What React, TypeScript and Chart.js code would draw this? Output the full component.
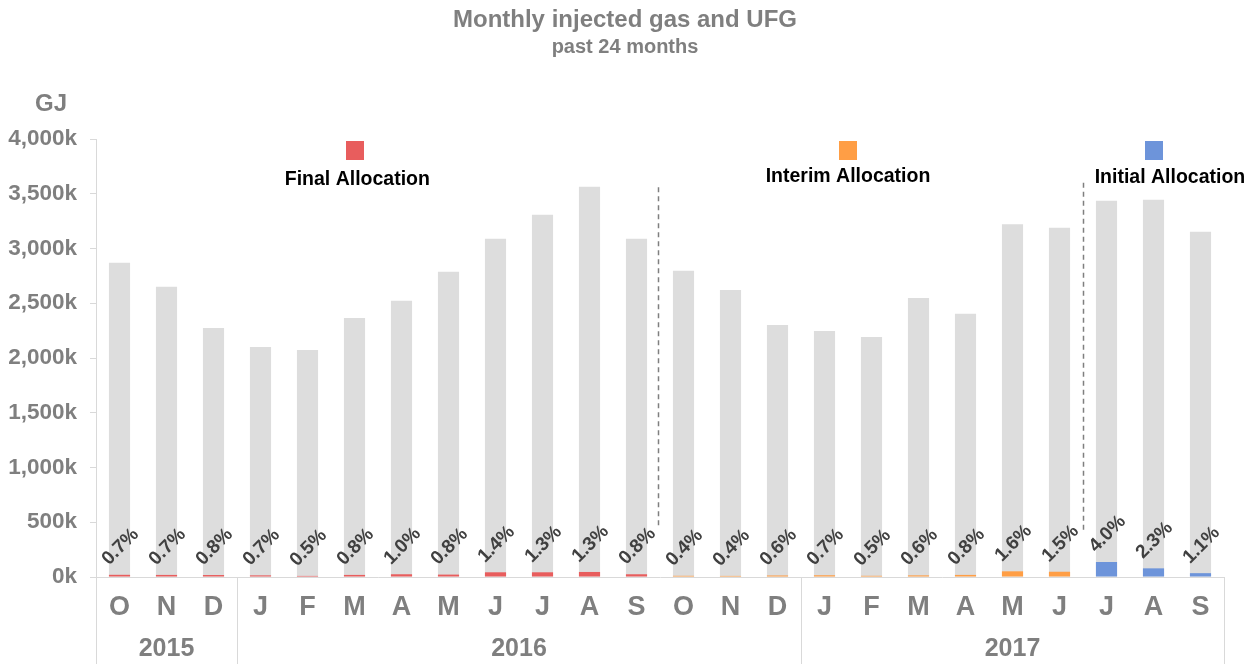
import React, { useEffect, useRef } from "react";
import { Chart, registerables } from "chart.js";

Chart.register(...registerables);

const months = ["O", "N", "D", "J", "F", "M", "A", "M", "J", "J", "A", "S", "O", "N", "D", "J", "F", "M", "A", "M", "J", "J", "A", "S"];
const years = ["2015", "2016", "2017"];
const yearStartIndex = [0, 3, 15];
const injectedGas = [2870, 2650, 2275, 2100, 2073, 2366, 2522, 2787, 3089, 3309, 3565, 3089, 2796, 2622, 2302, 2247, 2192, 2549, 2403, 3222, 3190, 3437, 3446, 3153];
const ufgGas = [20, 19, 18, 15, 10, 19, 25, 22, 43, 43, 46, 25, 11, 10, 14, 16, 11, 15, 19, 52, 48, 137, 79, 35];
const ufgPercent = ["0.7%", "0.7%", "0.8%", "0.7%", "0.5%", "0.8%", "1.0%", "0.8%", "1.4%", "1.3%", "1.3%", "0.8%", "0.4%", "0.4%", "0.6%", "0.7%", "0.5%", "0.6%", "0.8%", "1.6%", "1.5%", "4.0%", "2.3%", "1.1%"];
const stages = ["Final", "Final", "Final", "Final", "Final", "Final", "Final", "Final", "Final", "Final", "Final", "Final", "Interim", "Interim", "Interim", "Interim", "Interim", "Interim", "Interim", "Interim", "Interim", "Initial", "Initial", "Initial"];
const stageNames = ["Final Allocation", "Interim Allocation", "Initial Allocation"];
const stageKeys = ["Final", "Interim", "Initial"];
const stageColors = ["#E85D5D", "#FF9E45", "#6D94DA"];

const GREY_TEXT = "#7F7F7F";
const FONT = "'Liberation Sans', Arial, sans-serif";

const overlayPlugin = {
  id: "overlay",
  beforeDatasetsDraw(chart: any) {
    const { ctx, scales } = chart;
    const x = scales.x;
    const y = scales.y;
    ctx.save();
    ctx.strokeStyle = "#7F7F7F";
    ctx.lineWidth = 1.5;
    ctx.setLineDash([5, 4]);
    const dashes = [
      { v: 11.45, y0: 3560, y1: 440 },
      { v: 20.5, y0: 3600, y1: 415 },
    ];
    dashes.forEach((d) => {
      const px = Math.round(x.getPixelForValue(d.v)) + 0.5;
      ctx.beginPath();
      ctx.moveTo(px, y.getPixelForValue(d.y0));
      ctx.lineTo(px, y.getPixelForValue(d.y1));
      ctx.stroke();
    });
    ctx.restore();
  },
  afterDraw(chart: any) {
    const { ctx, chartArea, scales, height } = chart;
    const x = scales.x;
    ctx.save();
    ctx.fillStyle = GREY_TEXT;
    ctx.textAlign = "center";
    ctx.textBaseline = "middle";
    ctx.font = `bold 24px ${FONT}`;
    ctx.fillText("Monthly injected gas and UFG", 625, 20);
    ctx.font = `bold 20px ${FONT}`;
    ctx.fillText("past 24 months", 625, 47);
    ctx.font = `bold 24px ${FONT}`;
    ctx.fillText("GJ", 51, 104);

    const legendPos = [
      { sq: 5, tx: 5.06, ty: 180 },
      { sq: 15.5, tx: 15.5, ty: 177 },
      { sq: 22, tx: 22.35, ty: 178 },
    ];
    legendPos.forEach((p, i) => {
      const sx = x.getPixelForValue(p.sq);
      ctx.fillStyle = stageColors[i];
      ctx.fillRect(Math.round(sx - 9), 141, 18, 19);
      ctx.fillStyle = "#000000";
      ctx.font = `bold 19.5px ${FONT}`;
      ctx.fillText(stageNames[i], x.getPixelForValue(p.tx), p.ty);
    });

    const catW = x.getPixelForValue(1) - x.getPixelForValue(0);
    const edge = (k: number) => x.getPixelForValue(0) - catW / 2 + k * catW;
    ctx.strokeStyle = "#D9D9D9";
    ctx.lineWidth = 1;
    const bounds = [...yearStartIndex, months.length];
    bounds.forEach((k) => {
      const px = Math.round(edge(k)) + 0.5;
      ctx.beginPath();
      ctx.moveTo(px, chartArea.bottom);
      ctx.lineTo(px, height);
      ctx.stroke();
    });
    ctx.fillStyle = GREY_TEXT;
    ctx.font = `bold 25px ${FONT}`;
    years.forEach((yr, i) => {
      const a = bounds[i];
      const b = bounds[i + 1];
      ctx.fillText(yr, (edge(a) + edge(b)) / 2, 649);
    });

    const meta = chart.getDatasetMeta(0);
    ctx.fillStyle = "#404040";
    ctx.font = `bold 19px ${FONT}`;
    meta.data.forEach((bar: any, i: number) => {
      ctx.save();
      ctx.translate(bar.x + 1, bar.y - 28);
      ctx.rotate(-Math.PI / 4);
      ctx.fillText(ufgPercent[i], 0, 0);
      ctx.restore();
    });
    ctx.restore();
  },
};

export default function App() {
  const canvasRef = useRef<HTMLCanvasElement | null>(null);

  useEffect(() => {
    if (!canvasRef.current) return;
    const ufgColors = stages.map((s) => stageColors[stageKeys.indexOf(s)]);
    const chart = new Chart(canvasRef.current, {
      type: "bar",
      data: {
        labels: months,
        datasets: [
          {
            label: "UFG",
            data: ufgGas,
            backgroundColor: ufgColors,
            grouped: false,
            barPercentage: 0.9,
            categoryPercentage: 0.5,
          },
          {
            label: "Injected gas",
            data: injectedGas,
            backgroundColor: "#DDDDDD",
            grouped: false,
            barPercentage: 0.9,
            categoryPercentage: 0.5,
          },
        ],
      },
      options: {
        responsive: false,
        animation: false,
        layout: { padding: { left: 0, right: 31, top: 139, bottom: 0 } },
        plugins: {
          legend: { display: false },
          title: { display: false },
          tooltip: { enabled: false },
        },
        scales: {
          x: {
            grid: { display: false },
            border: { display: true, color: "#D9D9D9", width: 1 },
            ticks: {
              color: GREY_TEXT,
              font: { family: FONT, size: 27, weight: "bold" },
              padding: 6,
              maxRotation: 0,
              autoSkip: false,
            },
            afterFit: (scale: any) => {
              scale.height = 87;
            },
          },
          y: {
            min: 0,
            max: 4000,
            border: { display: true, color: "#D9D9D9", width: 1 },
            grid: { drawOnChartArea: false, drawTicks: true, tickLength: 6, color: "#D9D9D9" },
            ticks: {
              stepSize: 500,
              color: GREY_TEXT,
              font: { family: FONT, size: 22.5, weight: "bold" },
              padding: 13,
              callback: (v: any) => Number(v).toLocaleString("en-US") + "k",
            },
            afterFit: (scale: any) => {
              scale.width = 96;
            },
          },
        },
      },
      plugins: [overlayPlugin],
    });
    return () => chart.destroy();
  }, []);

  return (
    <div style={{ position: "absolute", left: 0, top: 0, width: 1255, height: 664, background: "#FFFFFF" }}>
      <canvas ref={canvasRef} width={1255} height={664} />
    </div>
  );
}
